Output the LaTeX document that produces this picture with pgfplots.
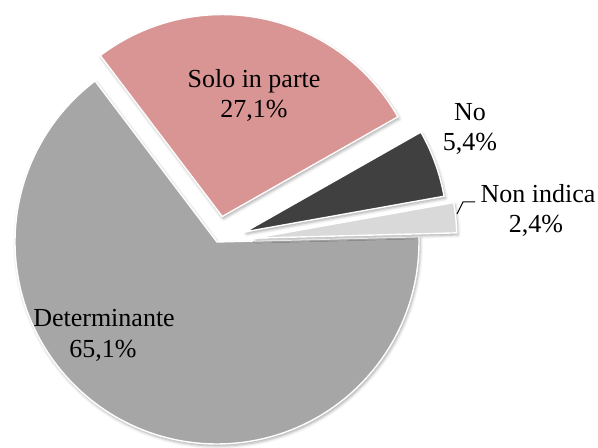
\documentclass[border=0pt]{standalone}
\usepackage{pgfplots}
\pgfplotsset{compat=1.18}
\usepackage{fontspec}
\setmainfont{Liberation Serif}
\usetikzlibrary{calc,shadows.blur}

\definecolor{sgray}{HTML}{A6A6A6}
\definecolor{spink}{HTML}{D99594}
\definecolor{sdark}{HTML}{404040}
\definecolor{slight}{HTML}{D9D9D9}

% one slice: start angle, end angle, explode (pt), colour
\newcommand{\pieslice}[4]{%
  \fill[#4, draw=white, line width=1.4pt, line join=miter,
        blur shadow={shadow xshift=1.2pt, shadow yshift=-2pt,
                     shadow blur radius=3pt, shadow opacity=35}]
    ($(axis cs:217,204)+({(#1+#2)/2}:#3pt)$) -- ++(#1:202pt)
    arc[start angle=#1, end angle=#2, radius=202pt] -- cycle;
}

\begin{document}
\begin{tikzpicture}
% percentages: Determinante 65.1, Solo in parte 27.1, No 5.4, Non indica 2.4
\pgfmathsetmacro\aA{1.5}
\pgfmathsetmacro\aB{\aA-3.6*65.1}
\pgfmathsetmacro\aC{\aB-3.6*27.1}
\pgfmathsetmacro\aD{\aC-3.6*5.4}
\pgfmathsetmacro\aE{\aD-3.6*2.4}
\begin{axis}[
    width=598pt, height=446pt, scale only axis,
    xmin=0, xmax=598, ymin=0, ymax=446,
    hide axis, clip=false,
  ]
  \addplot[draw=none, forget plot] coordinates {(0,0) (598,446)};
  \pieslice{\aA}{\aB}{0}{sgray}
  \pieslice{\aB}{\aC}{26}{spink}
  \pieslice{\aC}{\aD}{30}{sdark}
  \pieslice{\aD}{\aE}{38}{slight}

  \draw[black, line width=1pt] (axis cs:457,232) -- (axis cs:463,244) -- (axis cs:475,244);

  \begin{scope}[every node/.style={anchor=base, inner sep=0pt, font=\fontsize{26}{30}\selectfont}]
  \node at (axis cs:254,358) {Solo in parte};
  \node at (axis cs:254,328) {27,1\%};
  \node at (axis cs:104,119) {Determinante};
  \node at (axis cs:103,88) {65,1\%};
  \node at (axis cs:470,325) {No};
  \node at (axis cs:470,295) {5,4\%};
  \node at (axis cs:538,243) {Non indica};
  \node at (axis cs:536,213) {2,4\%};
  \end{scope}
\end{axis}
\end{tikzpicture}
\end{document}
